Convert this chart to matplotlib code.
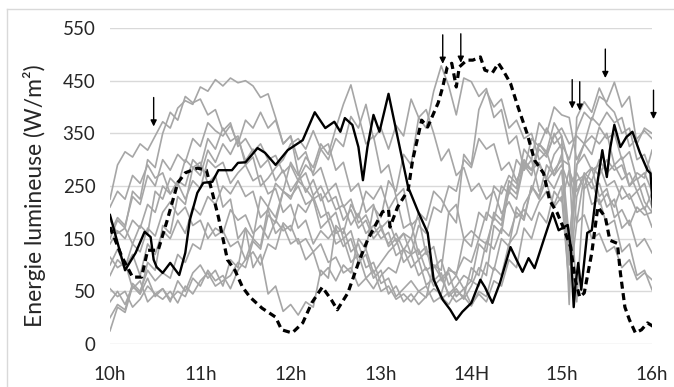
import numpy as np
import matplotlib.pyplot as plt
from matplotlib.lines import Line2D

plt.rcParams['font.family'] = ['Lato', 'DejaVu Sans']

# minutes after 10h, one reading every 5 min for the grey days
t_grey = np.arange(0, 361, 5)

grey_days = [
    [225, 290, 315, 305, 330, 318, 345,
     372, 360, 398, 412, 405, 438,
     430, 452, 440, 455, 446, 450,
     440, 418, 425, 380, 330, 345,
     275, 238, 262, 222, 240, 205,
     214, 176, 198, 160, 175, 150,
     162, 118, 130, 95, 110, 62,
     75, 35, 48, 30, 40, 22,
     50, 40, 95, 80, 140, 160,
     215, 240, 290, 265, 310, 330,
     300, 355, 390, 375, 420, 410,
     447, 400, 420, 330, 360, 350],
    [150, 185, 170, 240, 225, 300, 285,
     350, 390, 375, 420, 408, 415,
     385, 395, 355, 370, 325, 340,
     315, 330, 300, 308, 275, 290,
     260, 275, 232, 250, 220, 230,
     185, 205, 170, 185, 150, 168,
     140, 160, 128, 152, 110, 125,
     95, 110, 62, 80, 55, 70,
     60, 105, 90, 150, 135, 210,
     190, 250, 230, 290, 270, 310,
     150, 290, 330, 310, 362, 340,
     350, 300, 315, 262, 275, 240],
    [-25, 20, 10, 60, 45, 105, 90,
     175, 160, 230, 215, 285, 270,
     318, 295, 330, 310, 340, 298,
     320, 285, 300, 260, 280, 240,
     262, 290, 275, 320, 300, 340,
     325, 382, 360, 405, 340, 360,
     320, 365, 345, 415, 380, 395,
     350, 298, 320, 270, 285, 240,
     255, 225, 240, 198, 220, 190,
     205, 185, 220, 240, 215, 250,
     60, 230, 275, 260, 300, 275,
     290, 262, 275, 240, 255, 210],
    [185, 160, 170, 140, 175, 160, 240,
     225, 265, 250, 300, 285, 295,
     255, 270, 210, 225, 150, 170,
     95, 120, 45, 60, 12, 25,
     5, 30, 20, 90, 75, 175,
     160, 215, 190, 240, 225, 250,
     205, 230, 170, 180, 120, 135,
     70, 85, 40, 55, 35, 60,
     95, 80, 175, 160, 250, 235,
     295, 280, 320, 305, 350, 320,
     100, 290, 310, 280, 290, 250,
     260, 225, 235, 200, 210, 172],
    [30, 50, 25, 60, 45, 75, 40,
     55, 30, 70, 50, 85, 100,
     75, 90, 60, 110, 95, 170,
     150, 230, 210, 255, 240, 295,
     270, 305, 285, 330, 310, 360,
     405, 442, 385, 330, 345, 275,
     290, 230, 245, 175, 190, 120,
     135, 70, 85, 40, 55, 25,
     45, 30, 70, 60, 110, 95,
     170, 150, 200, 180, 240, 220,
     280, 240, 270, 245, 255, 210,
     225, 170, 185, 135, 150, 123],
    [100, 130, 95, 120, 80, 140, 120,
     165, 150, 185, 160, 210, 195,
     230, 215, 250, 235, 260, 230,
     240, 190, 205, 160, 175, 140,
     150, 110, 125, 80, 95, 70,
     100, 85, 150, 130, 210, 190,
     260, 240, 310, 290, 380, 360,
     430, 478, 440, 385, 455, 448,
     420, 435, 380, 395, 330, 345,
     280, 300, 240, 255, 210, 230,
     60, 180, 195, 150, 160, 125,
     135, 95, 110, 72, 85, 72],
    [55, 40, 50, 20, 35, 60, 45,
     55, 35, 50, 40, 75, 60,
     90, 70, 80, 55, 90, 110,
     150, 135, 210, 190, 240, 230,
     250, 215, 225, 170, 185, 140,
     150, 105, 120, 75, 90, 50,
     60, 35, 45, 30, 50, 38,
     100, 90, 200, 180, 310, 290,
     395, 430, 400, 415, 360, 375,
     340, 350, 300, 315, 270, 290,
     250, 275, 245, 260, 215, 235,
     210, 250, 225, 240, 205, 237],
    [80, 110, 95, 140, 125, 170, 155,
     200, 220, 195, 210, 175, 185,
     150, 170, 160, 205, 185, 195,
     160, 175, 150, 185, 165, 175,
     140, 150, 125, 140, 105, 115,
     85, 95, 60, 75, 55, 80,
     95, 85, 130, 120, 175, 160,
     210, 200, 250, 240, 300, 285,
     340, 320, 330, 280, 295, 260,
     290, 280, 330, 315, 370, 345,
     25, 380, 410, 390, 436, 405,
     390, 350, 360, 300, 310, 270],
    [140, 165, 150, 185, 170, 215, 200,
     250, 235, 255, 225, 260, 245,
     300, 285, 295, 255, 275, 290,
     260, 270, 235, 245, 200, 215,
     170, 185, 140, 165, 150, 170,
     135, 150, 105, 120, 75, 90,
     45, 60, 30, 45, 25, 40,
     55, 45, 95, 80, 150, 135,
     200, 185, 250, 235, 270, 255,
     300, 280, 295, 260, 280, 300,
     290, 30, 250, 285, 270, 300,
     280, 290, 250, 275, 265, 318],
    [0, 25, 15, 65, 50, 90, 70,
     85, 75, 120, 105, 140, 130,
     180, 155, 165, 135, 145, 110,
     125, 100, 140, 130, 180, 165,
     215, 200, 230, 190, 200, 160,
     170, 125, 140, 95, 105, 65,
     75, 40, 55, 70, 50, 60,
     30, 40, 25, 50, 40, 95,
     80, 145, 130, 170, 155, 200,
     185, 250, 225, 265, 245, 280,
     120, 260, 270, 215, 225, 175,
     185, 125, 140, 80, 90, 53],
    [210, 240, 225, 270, 255, 290, 265,
     275, 235, 260, 250, 300, 285,
     340, 320, 360, 335, 345, 290,
     305, 250, 265, 285, 300, 330,
     340, 320, 355, 320, 330, 280,
     295, 240, 255, 200, 215, 170,
     185, 145, 160, 120, 130, 90,
     100, 75, 90, 85, 115, 105,
     150, 140, 190, 175, 240, 225,
     290, 270, 330, 310, 345, 360,
     330, 345, 330, 380, 365, 390,
     370, 380, 325, 340, 355, 340],
    [115, 95, 105, 55, 70, 30, 45,
     35, 50, 28, 60, 45, 70,
     85, 60, 70, 80, 105, 95,
     145, 130, 195, 180, 240, 225,
     260, 245, 225, 235, 185, 200,
     150, 165, 115, 130, 85, 105,
     125, 140, 160, 150, 200, 185,
     240, 225, 200, 215, 150, 165,
     150, 200, 185, 250, 235, 300,
     280, 340, 325, 360, 330, 345,
     290, 180, 270, 285, 230, 245,
     190, 205, 175, 210, 195, 200],
    [160, 190, 175, 230, 215, 270, 250,
     300, 280, 310, 295, 340, 325,
     370, 355, 345, 365, 330, 375,
     360, 390, 360, 375, 330, 345,
     300, 315, 270, 285, 240, 255,
     210, 225, 180, 195, 160, 175,
     135, 150, 105, 120, 80, 95,
     60, 75, 45, 60, 80, 70,
     140, 125, 200, 185, 260, 245,
     320, 300, 370, 350, 400, 385,
     380, 300, 330, 345, 330, 350,
     290, 305, 250, 265, 220, 200],
]

# black solid day
t_solid = [0, 10, 17, 23, 27, 29, 31, 35, 40, 46, 50, 53, 58, 62, 68, 72, 81, 85,
           90, 98, 103, 110, 118, 128, 136, 143, 149, 153, 156, 161, 165, 168,
           171, 175, 179, 185, 191, 198, 205, 211, 215, 221, 226, 230, 234, 240,
           246, 249, 254, 259, 266, 270, 274, 278, 282, 288, 294, 298, 304, 306,
           308, 309, 311, 313, 317, 320, 324, 327, 330, 332, 335, 339, 343, 347,
           352, 357, 359, 361]
v_solid = [195, 90, 123, 163, 153, 110, 96, 85, 104, 81, 123, 185, 237, 256, 258,
           280, 280, 294, 295, 322, 313, 290, 318, 337, 390, 360, 372, 353, 379,
           366, 324, 261, 324, 385, 353, 425, 343, 248, 199, 161, 72, 34, 15, -4,
           11, 28, 72, 58, 28, 66, 134, 110, 87, 113, 94, 147, 199, 166, 176, 134,
           20, 58, 104, 53, 161, 166, 261, 318, 267, 318, 366, 324, 343, 353, 313,
           280, 274, 191]

# black dashed day
t_dash = [0, 8, 15, 21, 25, 32, 38, 45, 50, 58, 64, 68, 72, 78, 83, 88, 93, 101,
          110, 114, 121, 128, 134, 141, 147, 151, 158, 165, 171, 181, 185, 186,
          191, 198, 201, 207, 211, 218, 221, 224, 227, 230, 232, 237, 241, 246,
          249, 254, 258, 261, 266, 271, 277, 282, 288, 292, 297, 301, 306, 309,
          312, 315, 320, 324, 329, 332, 337, 339, 342, 345, 349, 353, 357, 361]
v_dash = [172, 115, 77, 77, 128, 128, 185, 256, 275, 284, 280, 237, 191, 110, 90,
          58, 39, 18, 1, -23, -29, -10, 28, 58, 34, 15, 47, 104, 147, 201, 205,
          172, 210, 242, 299, 375, 362, 408, 438, 476, 483, 438, 476, 489, 489,
          495, 470, 465, 483, 470, 445, 400, 350, 299, 274, 223, 199, 172, 134,
          72, 39, 47, 123, 210, 191, 147, 141, 85, 20, -4, -29, -23, -10, -17]

# arrows marking sunflecks: time (min) and arrow top / tip in data units
arrow_t = [29, 221, 233, 307, 312, 329, 361]
arrow_top = [418, 537, 539, 452, 448, 510, 432]
arrow_tip = [363, 482, 484, 397, 393, 455, 377]

y_ticks = [-50, 50, 150, 250, 350, 450, 550]
y_labels = ['0', '50', '150', '250', '350', '450', '550']
x_ticks = [0, 60, 120, 180, 240, 300, 360]
x_labels = ['10h', '11h', '12h', '13h', '14H', '15h', '16h']

fig = plt.figure(figsize=(6.74, 3.87), dpi=100)
ax = fig.add_axes([110 / 674, 1 - 344 / 387, 542 / 674, 316 / 387])

for g in grey_days:
    ax.plot(t_grey, g, color='#a6a6a6', lw=1.2, zorder=2, solid_joinstyle='round')
ax.plot(t_solid, v_solid, color='black', lw=1.7, zorder=3)
ax.plot(t_dash, v_dash, color='black', lw=2.3, ls=(0, (2.2, 1.4)), zorder=4)

for t, top, tip in zip(arrow_t, arrow_top, arrow_tip):
    ax.annotate('', xy=(t, tip), xytext=(t, top),
                arrowprops=dict(arrowstyle='-|>', color='black', lw=1.0,
                                mutation_scale=9, shrinkA=0, shrinkB=0),
                annotation_clip=False, zorder=5)

ax.set_xlim(0, 360)
ax.set_ylim(-50, 550)
ax.set_yticks(y_ticks)
ax.set_yticklabels(y_labels)
ax.set_xticks(x_ticks)
ax.set_xticklabels(x_labels)
ax.tick_params(length=0, labelsize=13.5, colors='#262626')
ax.tick_params(axis='y', pad=10.5)
ax.tick_params(axis='x', pad=16)
ax.grid(axis='y', color='#d9d9d9', lw=1.0, zorder=0)
for s in ax.spines.values():
    s.set_visible(False)

fig.text(35 / 674, 1 - 196 / 387, 'Energie lumineuse (W/m²)', rotation=90,
         ha='center', va='center', fontsize=16.5, color='#262626')

# chart frame
fig.add_artist(Line2D([7 / 674, 7 / 674], [0, 1 - 9 / 387], color='#d9d9d9', lw=1.0))
fig.add_artist(Line2D([7 / 674, 1], [1 - 9 / 387, 1 - 9 / 387], color='#d9d9d9', lw=1.0))

fig.savefig('out.png', dpi=100)
